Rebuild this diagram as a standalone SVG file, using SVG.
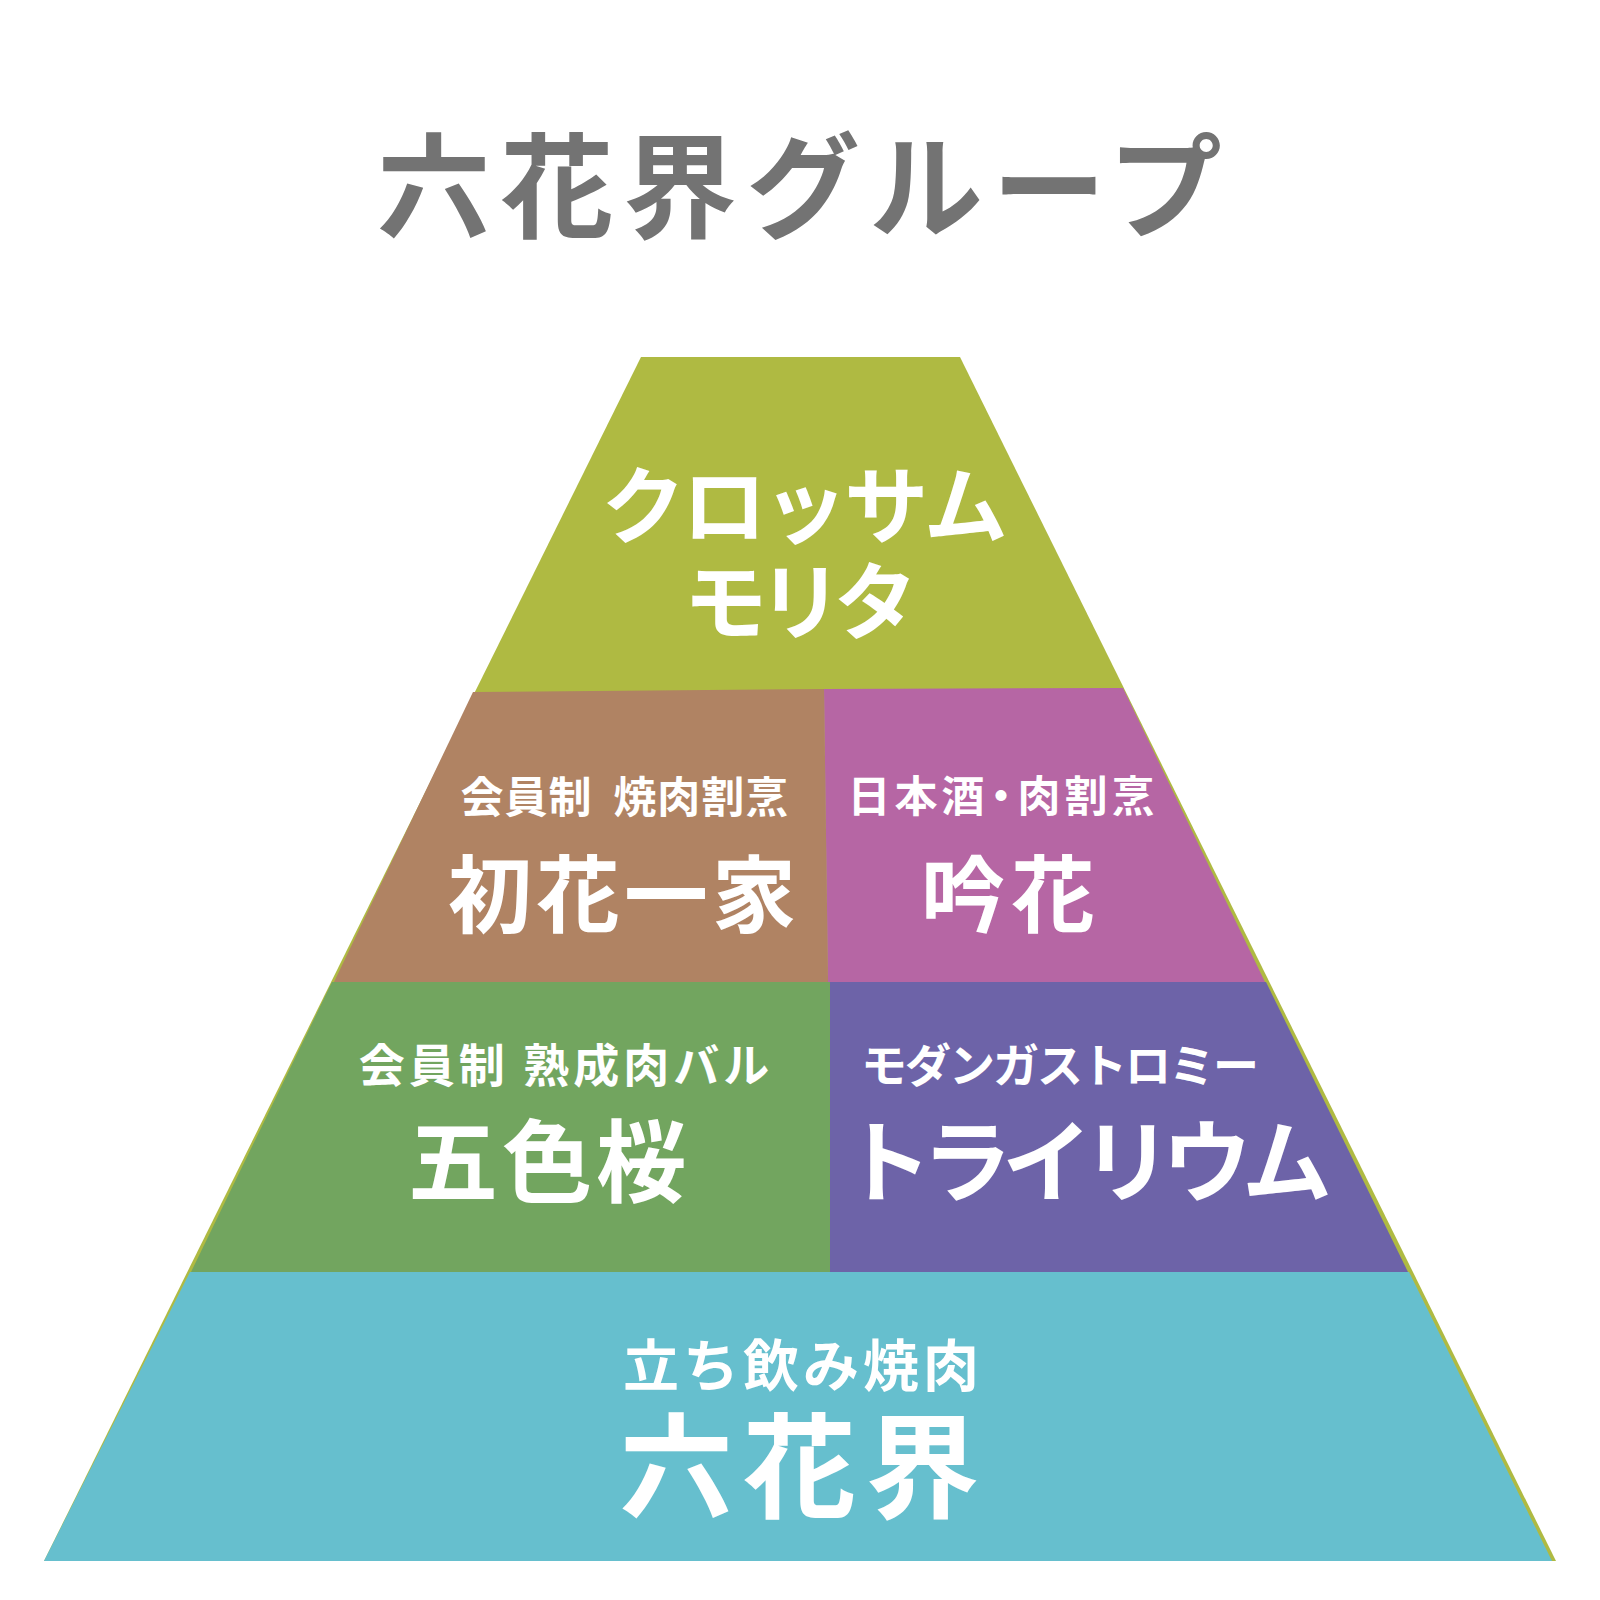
<svg xmlns="http://www.w3.org/2000/svg" width="1600" height="1600" viewBox="0 0 1600 1600">
<style>
text{font-family:"Noto Sans CJK JP","Noto Sans CJK SC",sans-serif;font-weight:700;text-anchor:middle;fill:#FFFFFF}
.title{fill:#737373;font-size:114px;letter-spacing:9px}
.big{font-size:84px;letter-spacing:4px}
.xl{font-size:90px;letter-spacing:6px}
.sub{font-size:43px;letter-spacing:2px}
.sub2{font-size:46px;letter-spacing:4px}
</style>
<rect width="1600" height="1600" fill="#FFFFFF"/>
<g id="title"><text class="title" x="804" y="229">六花界グループ</text></g>
<g id="pyramid-base"><polygon points="641,357 960,357 1556,1561 44,1561" fill="#AFBA42"/></g>
<g id="node-crossam">
<text class="big" x="803" y="537" style="letter-spacing:-3px">クロッサム</text>
<text class="big" x="796" y="633" style="letter-spacing:-9px">モリタ</text>
</g>
<g id="node-uibana">
<polygon points="473,692 824,689 828,982 334,982" fill="#B08363"/>
<text class="sub" x="625" y="813" style="letter-spacing:1px">会員制 <tspan dx="10">焼肉割烹</tspan></text>
<text class="big" x="624" y="926">初花一家</text>
</g>
<g id="node-ginka">
<polygon points="824,689 1123,688 1265,982 828,982" fill="#B666A4"/>
<text class="sub" x="1003" y="812" style="letter-spacing:4px">日本酒<tspan dx="-9">・</tspan><tspan dx="-9">肉割烹</tspan></text>
<text class="big" x="1011" y="926" style="letter-spacing:6px">吟花</text>
</g>
<g id="node-goshikizakura">
<polygon points="332,982 830,982 830,1272 191,1272" fill="#72A55F"/>
<text class="sub2" x="566" y="1082">会員制 熟成肉バル</text>
<text class="xl" x="549" y="1195" style="letter-spacing:4px">五色桜</text>
</g>
<g id="node-trillium">
<polygon points="830,982 1266,982 1408,1272 830,1272" fill="#6D63A8"/>
<text class="sub2" x="1059" y="1082" style="letter-spacing:-2px">モダンガストロミー</text>
<text class="xl" x="1082" y="1195" style="letter-spacing:-10px">トライリウム</text>
</g>
<g id="node-rikkakai">
<polygon points="190,1272 1409,1272 1552,1561 44,1561" fill="#66BFCE"/>
<text x="803" y="1386" style="font-size:56px;letter-spacing:4px">立ち飲み焼肉</text>
<text class="title" x="804" y="1509" style="fill:#FFFFFF">六花界</text>
</g>
</svg>
